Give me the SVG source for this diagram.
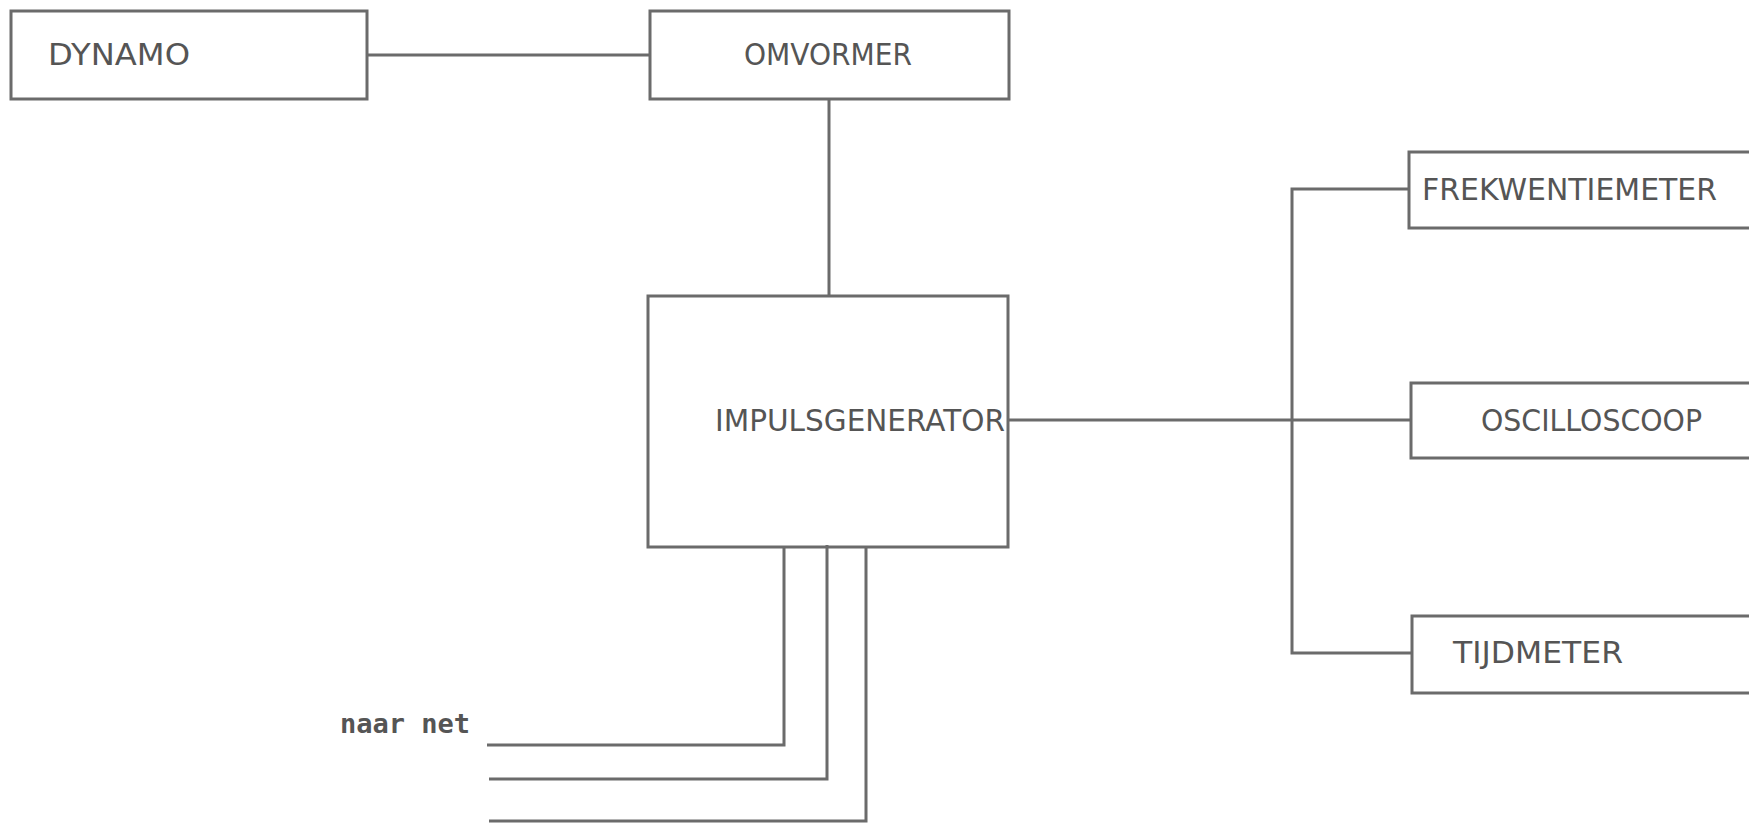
<svg xmlns="http://www.w3.org/2000/svg" width="1749" height="823" viewBox="0 0 1749 823">
<style>
.box{fill:none;stroke:#6b6b6b;stroke-width:3}
.wire{fill:none;stroke:#6b6b6b;stroke-width:3}
.lbl{font-family:"DejaVu Sans","Liberation Sans",sans-serif;font-size:31px;fill:#555}
.note{font-family:"DejaVu Sans Mono","Liberation Mono",monospace;font-size:27px;font-weight:bold;fill:#555}
</style>
<rect width="1749" height="823" fill="#ffffff"/>
<g id="connectors">
<line class="wire" x1="367" y1="55" x2="650" y2="55"/>
<line class="wire" x1="829" y1="99" x2="829" y2="296"/>
<line class="wire" x1="1008" y1="420" x2="1411" y2="420"/>
<polyline class="wire" points="1409,189 1292,189 1292,653 1412,653"/>
<polyline class="wire" points="784,547 784,745 487,745"/>
<polyline class="wire" points="827,545 827,779 489,779"/>
<polyline class="wire" points="866,547 866,821 489,821"/>
</g>
<g id="dynamo">
<rect class="box" x="11" y="11" width="356" height="88"/>
<text class="lbl" x="48" y="65" textLength="142" lengthAdjust="spacingAndGlyphs">DYNAMO</text>
</g>
<g id="omvormer">
<rect class="box" x="650" y="11" width="359" height="88"/>
<text class="lbl" x="744" y="65" textLength="168" lengthAdjust="spacingAndGlyphs">OMVORMER</text>
</g>
<g id="impulsgenerator">
<rect class="box" x="648" y="296" width="360" height="251"/>
<text class="lbl" x="715" y="431" textLength="290" lengthAdjust="spacingAndGlyphs">IMPULSGENERATOR</text>
</g>
<g id="frekwentiemeter">
<rect class="box" x="1409" y="152" width="360" height="76"/>
<text class="lbl" x="1422" y="200" textLength="295" lengthAdjust="spacingAndGlyphs">FREKWENTIEMETER</text>
</g>
<g id="oscilloscoop">
<rect class="box" x="1411" y="383" width="360" height="75"/>
<text class="lbl" x="1481" y="431" textLength="221" lengthAdjust="spacingAndGlyphs">OSCILLOSCOOP</text>
</g>
<g id="tijdmeter">
<rect class="box" x="1412" y="616" width="360" height="77"/>
<text class="lbl" x="1453" y="663" textLength="170" lengthAdjust="spacingAndGlyphs">TIJDMETER</text>
</g>
<g id="naar-net">
<text class="note" x="340" y="733" textLength="130" lengthAdjust="spacingAndGlyphs">naar net</text>
</g>
</svg>
